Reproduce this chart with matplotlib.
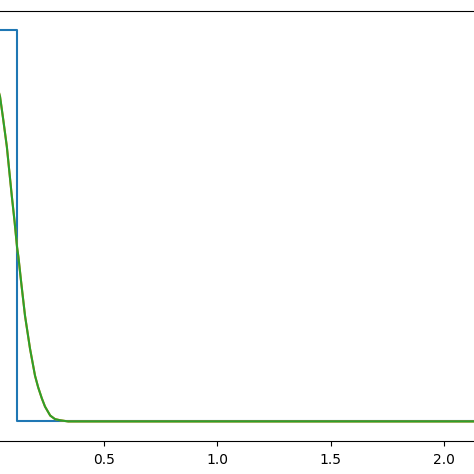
import matplotlib
matplotlib.use("Agg")
import matplotlib.pyplot as plt

# box (blue) outline
box_x = [-2.5, -0.117, -0.117, 0.117, 0.117, 2.5]
box_y = [0, 0, 1, 1, 0, 0]

# smoothed box (orange under green)
smooth_x = [-0.05, -0.02, 0.0, 0.02, 0.043, 0.056, 0.073, 0.083, 0.095, 0.107,
            0.118, 0.124, 0.136, 0.153, 0.175, 0.197, 0.211, 0.227, 0.241,
            0.264, 0.285, 0.308, 0.343, 2.5]
smooth_y = [0.82, 0.89, 0.90, 0.88, 0.83, 0.776, 0.702, 0.644, 0.575, 0.511,
            0.445, 0.420, 0.356, 0.270, 0.186, 0.117, 0.087, 0.059, 0.038,
            0.015, 0.006, 0.003, 0.0, 0.0]

fig = plt.figure(figsize=(4.74, 4.74), dpi=100)
ax = fig.add_axes([-0.260, 0.0696, 1.437, 0.908])

ax.plot(box_x, box_y, color="tab:blue")
ax.plot(smooth_x, smooth_y, color="tab:orange")
ax.plot(smooth_x, smooth_y, color="tab:green")

ax.set_xlim(-0.5, 2.5)
ax.set_ylim(-0.05, 1.05)
ax.set_xticks([0.5, 1.0, 1.5, 2.0])
ax.set_yticks([])  # y axis lies outside the visible crop
ax.tick_params(axis="x", pad=5)

fig.savefig("out.png", dpi=100)
